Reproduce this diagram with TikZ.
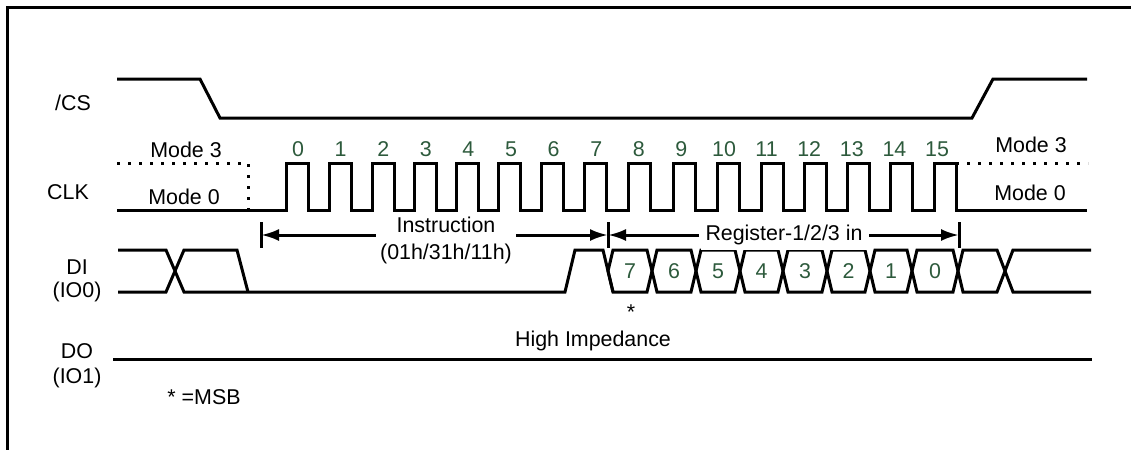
\documentclass[tikz,border=0pt]{standalone}
\usepackage{fontspec}
\setmainfont{Liberation Sans}
\usetikzlibrary{arrows.meta}
\definecolor{bitgreen}{RGB}{45,90,60}

\begin{document}
\begin{tikzpicture}[x=0.5pt,y=-0.5pt,>={Latex[length=9pt,width=6pt]},line width=1.5pt,
                    font=\fontsize{10.7}{13.5}\selectfont]
                    \tikzstyle{every node}=[inner sep=1pt]
                    \tikzstyle{sig}=[line width=1.5pt,line join=miter]
                    \tikzstyle{mode}=[line width=1.5pt,dash pattern=on 1.5pt off 4pt]
                    \tikzstyle{bit}=[text=bitgreen]
                    \tikzstyle{tick}=[line width=1.5pt]

  \useasboundingbox (0,0) rectangle (1131,450);
  \draw (7,450) -- (7,7) -- (1131,7);

  \node (cs) at (73,103) {/CS};
  \node (clk) at (68,192) {CLK};
  \node[align=center] (di) at (77,281) {DI\\[-2pt](IO0)};
  \node[align=center] (do) at (77,366) {DO\\[-1pt](IO1)};
  \node (msb) at (204,397) {* =MSB};

  \node (m3l) at (186,150) {Mode 3};
  \node (m0l) at (184,197) {Mode 0};
  \node (m3r) at (1031,145) {Mode 3};
  \node (m0r) at (1030,193) {Mode 0};

  % /CS
  \draw[sig] (117,79) -- (200,79) -- (220,118) -- (972,118) -- (993,79) -- (1087,79);

  % CLK
  \draw[mode] (117,163) -- (248,163) -- (248,210);
  \draw[mode] (956,163) -- (1088,163);
  \draw[sig] (117,210)
    \foreach \x in {286,329,372,414,456,498,541,584,628,673,717,761,804,847,890,934}
      { -- (\x,210) -- (\x,163) -- (\x+22,163) -- (\x+22,210) } -- (1087,210);
  \foreach \n in {0,...,15}
    \node[bit] (c\n) at (298+42.6*\n,149) {\n};

  % DI
  \draw[sig] (118,250) -- (166,250) -- (175,271) -- (166,292) -- (118,292);
  \draw[sig] (175,271) -- (184,250) -- (237,250) -- (248,292);
  \draw[sig] (175,271) -- (184,292) -- (565,292) -- (575,250) -- (603,250) -- (613,292);
  \foreach \l/\r/\t in {608/652/7,652/696/6,696/740/5,740/783/4,783/827/3,827/870/2,870/912/1,912/958/0}
  {
    \draw[sig] (\l,271) -- (\l+5,250) -- (\r-5,250) -- (\r,271) -- (\r-5,292) -- (\l+5,292) -- cycle;
    \node[bit] (b\t) at ({(\l+\r)/2},271) {\t};
  }
  \draw[sig] (958,271) -- (963,250) -- (997,250) -- (1005,271) -- (997,292) -- (963,292) -- cycle;
  \draw[sig] (1005,271) -- (1013,250) -- (1091,250);
  \draw[sig] (1005,271) -- (1013,292) -- (1091,292);
  \node (star) at (631,312) {*};

  % DO
  \draw[sig] (113,359) -- (1092,359);
  \node (hiz) at (593,341) {High Impedance};

  % phases
  \coordinate (t0) at (261,235);
  \coordinate (t1) at (608,235);
  \coordinate (t2) at (959,235);
  \foreach \t in {t0,t1,t2}
    \draw[tick] (\t) ++(0,-13) -- ++(0,26);
  \node[fill=white,align=center,inner sep=1.5pt] (instr) at (446,240) {Instruction\\(01h/31h/11h)};
  \node[fill=white,inner sep=2.5pt] (reg) at (784,235) {Register-1/2/3 in};
  \draw[->] (instr.west |- t0) -- (t0);
  \draw[->] (instr.east |- t1) -- (t1);
  \draw[->] (reg.west) -- (t1);
  \draw[->] (reg.east) -- (t2);

\end{tikzpicture}
\end{document}
